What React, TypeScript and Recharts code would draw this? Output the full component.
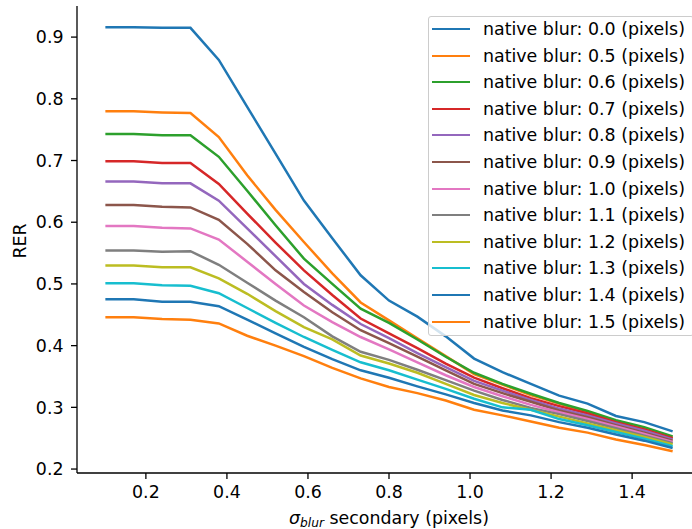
import { LineChart, Line, XAxis, YAxis } from "recharts";

// sigma_blur secondary, np.linspace(0.1, 1.5, 21)
const SIGMA_SECONDARY = [
  0.1, 0.17, 0.24, 0.31, 0.38, 0.45, 0.52, 0.59, 0.66, 0.73, 0.8, 0.87, 0.94,
  1.01, 1.08, 1.15, 1.22, 1.29, 1.36, 1.43, 1.5,
];

const NATIVE_BLUR = ["0.0", "0.5", "0.6", "0.7", "0.8", "0.9", "1.0", "1.1", "1.2", "1.3", "1.4", "1.5"];

const RER_00 = [0.916, 0.916, 0.915, 0.915, 0.863, 0.787, 0.711, 0.635, 0.574, 0.514, 0.473, 0.447, 0.415, 0.379, 0.357, 0.338, 0.319, 0.306, 0.286, 0.276, 0.261];
const RER_05 = [0.78, 0.78, 0.778, 0.777, 0.738, 0.676, 0.62, 0.568, 0.517, 0.47, 0.441, 0.412, 0.383, 0.354, 0.337, 0.32, 0.306, 0.292, 0.277, 0.266, 0.251];
const RER_06 = [0.743, 0.743, 0.741, 0.741, 0.706, 0.651, 0.595, 0.541, 0.5, 0.46, 0.437, 0.41, 0.382, 0.356, 0.338, 0.322, 0.307, 0.294, 0.279, 0.268, 0.253];
const RER_07 = [0.699, 0.699, 0.696, 0.696, 0.662, 0.614, 0.567, 0.522, 0.482, 0.444, 0.42, 0.396, 0.371, 0.348, 0.331, 0.315, 0.302, 0.29, 0.276, 0.264, 0.25];
const RER_08 = [0.666, 0.666, 0.663, 0.663, 0.635, 0.59, 0.545, 0.5, 0.466, 0.435, 0.412, 0.388, 0.365, 0.343, 0.327, 0.312, 0.298, 0.287, 0.274, 0.262, 0.248];
const RER_09 = [0.628, 0.628, 0.625, 0.624, 0.604, 0.565, 0.522, 0.487, 0.454, 0.425, 0.404, 0.382, 0.36, 0.338, 0.323, 0.309, 0.295, 0.284, 0.271, 0.259, 0.246];
const RER_10 = [0.594, 0.594, 0.591, 0.59, 0.572, 0.536, 0.5, 0.465, 0.438, 0.414, 0.394, 0.373, 0.352, 0.333, 0.318, 0.304, 0.292, 0.281, 0.269, 0.257, 0.244];
const RER_11 = [0.554, 0.554, 0.552, 0.553, 0.531, 0.502, 0.473, 0.446, 0.415, 0.39, 0.377, 0.361, 0.344, 0.327, 0.312, 0.299, 0.289, 0.278, 0.266, 0.254, 0.242];
const RER_12 = [0.53, 0.53, 0.527, 0.527, 0.509, 0.484, 0.456, 0.43, 0.41, 0.384, 0.371, 0.356, 0.338, 0.32, 0.307, 0.296, 0.285, 0.274, 0.263, 0.252, 0.24];
const RER_13 = [0.501, 0.501, 0.498, 0.497, 0.485, 0.461, 0.437, 0.414, 0.393, 0.373, 0.36, 0.345, 0.33, 0.314, 0.3, 0.296, 0.281, 0.271, 0.26, 0.249, 0.237];
const RER_14 = [0.475, 0.475, 0.471, 0.471, 0.464, 0.442, 0.42, 0.398, 0.378, 0.36, 0.348, 0.334, 0.321, 0.307, 0.295, 0.287, 0.276, 0.267, 0.256, 0.246, 0.234];
const RER_15 = [0.446, 0.446, 0.443, 0.442, 0.436, 0.416, 0.4, 0.383, 0.364, 0.347, 0.333, 0.323, 0.311, 0.296, 0.287, 0.277, 0.267, 0.259, 0.248, 0.239, 0.229];

const RER_SERIES = [RER_00, RER_05, RER_06, RER_07, RER_08, RER_09, RER_10, RER_11, RER_12, RER_13, RER_14, RER_15];

const X_TICKS = [0.2, 0.4, 0.6, 0.8, 1.0, 1.2, 1.4];
const Y_TICKS = [0.2, 0.3, 0.4, 0.5, 0.6, 0.7, 0.8, 0.9];

const TAB10 = [
  "#1f77b4", "#ff7f0e", "#2ca02c", "#d62728", "#9467bd",
  "#8c564b", "#e377c2", "#7f7f7f", "#bcbd22", "#17becf",
];

const FONT = "DejaVu Sans";
const FS = 17.4;
const SPINE = { stroke: "#000", strokeWidth: 1.3 };

const chartData = SIGMA_SECONDARY.map((x, i) => {
  const row: Record<string, number> = { x };
  RER_SERIES.forEach((s, k) => {
    row[`s${k}`] = s[i];
  });
  return row;
});

function XLabel(props: any) {
  const vb = props.viewBox || { x: 77, y: 473, width: 624 };
  return (
    <text
      x={vb.x + vb.width / 2}
      y={vb.y + 51}
      textAnchor="middle"
      fontSize={FS}
      fill="#000"
      fontFamily={FONT}
      style={{ whiteSpace: "pre" }}
    >
      <tspan fontStyle="italic">σ</tspan>
      <tspan fontStyle="italic" fontSize={12.2} dy={3.2}>blur</tspan>
      <tspan dy={-3.2}>{" secondary (pixels)"}</tspan>
    </text>
  );
}

function YLabel() {
  return (
    <text
      x={26}
      y={241}
      transform="rotate(-90, 26, 241)"
      textAnchor="middle"
      fontSize={FS}
      fill="#000"
      fontFamily={FONT}
    >
      RER
    </text>
  );
}

function LegendBox() {
  return (
    <div
      style={{
        position: "absolute",
        left: 428,
        top: 16,
        width: 264,
        height: 318,
        border: "1px solid #cccccc",
        borderRadius: 3,
        background: "rgba(255,255,255,0.8)",
        fontFamily: FONT,
        fontSize: FS,
        color: "#000",
      }}
    >
      {NATIVE_BLUR.map((b, i) => (
        <div
          key={b + i}
          style={{
            position: "absolute",
            left: 0,
            top: Math.round(-1 + 26.6 * i),
            height: 26,
            width: 264,
          }}
        >
          <div
            style={{
              position: "absolute",
              left: 3,
              top: 11.5,
              width: 38,
              height: 2.5,
              background: TAB10[i % TAB10.length],
            }}
          />
          <div
            style={{
              position: "absolute",
              left: 54,
              top: 0,
              lineHeight: "26px",
              whiteSpace: "nowrap",
            }}
          >
            {`native blur: ${b} (pixels)`}
          </div>
        </div>
      ))}
    </div>
  );
}

export default function App() {
  return (
    <div
      style={{
        position: "fixed",
        left: 0,
        top: 0,
        width: 692,
        height: 529,
        overflow: "hidden",
        background: "#fff",
      }}
    >
      <LineChart
        width={712}
        height={529}
        data={chartData}
        margin={{ top: 6, right: 11, bottom: 0, left: 0 }}
        style={{ fontFamily: FONT }}
      >
        <XAxis
          xAxisId="top"
          orientation="top"
          dataKey="x"
          type="number"
          domain={[0.03, 1.57]}
          height={0}
          tick={false}
          tickLine={false}
          axisLine={SPINE}
        />
        <XAxis
          dataKey="x"
          type="number"
          domain={[0.03, 1.57]}
          ticks={X_TICKS}
          tickFormatter={(v: number) => v.toFixed(1)}
          height={56}
          tickSize={6}
          tickMargin={7}
          tick={{ fontSize: FS, fill: "#000", fontFamily: FONT }}
          tickLine={SPINE}
          axisLine={SPINE}
          label={{ content: (p: any) => <XLabel {...p} /> }}
        />
        <YAxis
          type="number"
          domain={[0.1936, 0.9504]}
          ticks={Y_TICKS}
          tickFormatter={(v: number) => v.toFixed(1)}
          width={77}
          tickSize={6}
          tickMargin={7.5}
          tick={{ fontSize: FS, fill: "#000", fontFamily: FONT }}
          tickLine={SPINE}
          axisLine={SPINE}
          label={{ content: () => <YLabel /> }}
        />
        {RER_SERIES.map((_, k) => (
          <Line
            key={k}
            xAxisId={0}
            type="linear"
            dataKey={`s${k}`}
            name={`native blur: ${NATIVE_BLUR[k]} (pixels)`}
            stroke={TAB10[k % TAB10.length]}
            strokeWidth={2.5}
            dot={false}
            activeDot={false}
            isAnimationActive={false}
          />
        ))}
      </LineChart>
      <LegendBox />
    </div>
  );
}
